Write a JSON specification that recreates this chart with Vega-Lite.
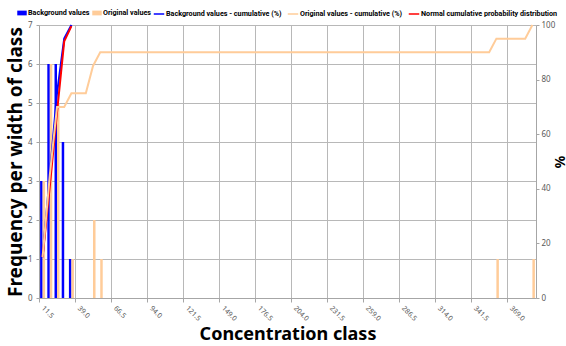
{
  "$schema": "https://vega.github.io/schema/vega-lite/v6.json",
  "width": 497,
  "height": 273,
  "autosize": {"type": "none"},
  "padding": {"left": 39, "top": 25, "right": 30, "bottom": 48},
  "background": "white",
  "config": {
    "view": {"stroke": null},
    "font": "Noto Sans",
    "axis": {
      "labelFont": "Noto Sans",
      "labelFontSize": 8,
      "labelColor": "#595959",
      "domainColor": "#a6a6a6",
      "tickColor": "#a6a6a6",
      "gridColor": "#b8b8b8",
      "titleFont": "Noto Sans",
      "titleFontWeight": "bold",
      "titleColor": "#000000"
    },
    "legend": {
      "labelFont": "Roboto",
      "labelFontSize": 7.2,
      "labelFontWeight": "bold",
      "labelColor": "#000000",
      "padding": 0,
      "gridAlign": "none",
      "layout": {"top": {"anchor": "middle", "direction": "horizontal", "margin": 2}}
    }
  },
  "datasets": {
    "bars": [
      {"cls": 11.5, "series": "Background values", "value": 3},
      {"cls": 17, "series": "Background values", "value": 6},
      {"cls": 22.5, "series": "Background values", "value": 6},
      {"cls": 28, "series": "Background values", "value": 4},
      {"cls": 33.5, "series": "Background values", "value": 1},
      {"cls": 11.5, "series": "Original values", "value": 3},
      {"cls": 17, "series": "Original values", "value": 6},
      {"cls": 22.5, "series": "Original values", "value": 5},
      {"cls": 33.5, "series": "Original values", "value": 1},
      {"cls": 50, "series": "Original values", "value": 2},
      {"cls": 55.5, "series": "Original values", "value": 1},
      {"cls": 358, "series": "Original values", "value": 1},
      {"cls": 385.5, "series": "Original values", "value": 1}
    ],
    "lines": [
      {"cls": 11.5, "series": "Background values - cumulative (%)", "pct": 15},
      {"cls": 17, "series": "Background values - cumulative (%)", "pct": 45},
      {"cls": 22.5, "series": "Background values - cumulative (%)", "pct": 75},
      {"cls": 28, "series": "Background values - cumulative (%)", "pct": 95},
      {"cls": 33.5, "series": "Background values - cumulative (%)", "pct": 100},
      {"cls": 11.5, "series": "Normal cumulative probability distribution", "pct": 15},
      {"cls": 17, "series": "Normal cumulative probability distribution", "pct": 41},
      {"cls": 22.5, "series": "Normal cumulative probability distribution", "pct": 68},
      {"cls": 28, "series": "Normal cumulative probability distribution", "pct": 94},
      {"cls": 33.5, "series": "Normal cumulative probability distribution", "pct": 99.6},
      {"cls": 11.5, "series": "Original values - cumulative (%)", "pct": 15},
      {"cls": 17, "series": "Original values - cumulative (%)", "pct": 45},
      {"cls": 22.5, "series": "Original values - cumulative (%)", "pct": 70},
      {"cls": 28, "series": "Original values - cumulative (%)", "pct": 70},
      {"cls": 33.5, "series": "Original values - cumulative (%)", "pct": 75},
      {"cls": 39, "series": "Original values - cumulative (%)", "pct": 75},
      {"cls": 44.5, "series": "Original values - cumulative (%)", "pct": 75},
      {"cls": 50, "series": "Original values - cumulative (%)", "pct": 85},
      {"cls": 55.5, "series": "Original values - cumulative (%)", "pct": 90},
      {"cls": 61, "series": "Original values - cumulative (%)", "pct": 90},
      {"cls": 66.5, "series": "Original values - cumulative (%)", "pct": 90},
      {"cls": 72, "series": "Original values - cumulative (%)", "pct": 90},
      {"cls": 77.5, "series": "Original values - cumulative (%)", "pct": 90},
      {"cls": 83, "series": "Original values - cumulative (%)", "pct": 90},
      {"cls": 88.5, "series": "Original values - cumulative (%)", "pct": 90},
      {"cls": 94, "series": "Original values - cumulative (%)", "pct": 90},
      {"cls": 99.5, "series": "Original values - cumulative (%)", "pct": 90},
      {"cls": 105, "series": "Original values - cumulative (%)", "pct": 90},
      {"cls": 110.5, "series": "Original values - cumulative (%)", "pct": 90},
      {"cls": 116, "series": "Original values - cumulative (%)", "pct": 90},
      {"cls": 121.5, "series": "Original values - cumulative (%)", "pct": 90},
      {"cls": 127, "series": "Original values - cumulative (%)", "pct": 90},
      {"cls": 132.5, "series": "Original values - cumulative (%)", "pct": 90},
      {"cls": 138, "series": "Original values - cumulative (%)", "pct": 90},
      {"cls": 143.5, "series": "Original values - cumulative (%)", "pct": 90},
      {"cls": 149, "series": "Original values - cumulative (%)", "pct": 90},
      {"cls": 154.5, "series": "Original values - cumulative (%)", "pct": 90},
      {"cls": 160, "series": "Original values - cumulative (%)", "pct": 90},
      {"cls": 165.5, "series": "Original values - cumulative (%)", "pct": 90},
      {"cls": 171, "series": "Original values - cumulative (%)", "pct": 90},
      {"cls": 176.5, "series": "Original values - cumulative (%)", "pct": 90},
      {"cls": 182, "series": "Original values - cumulative (%)", "pct": 90},
      {"cls": 187.5, "series": "Original values - cumulative (%)", "pct": 90},
      {"cls": 193, "series": "Original values - cumulative (%)", "pct": 90},
      {"cls": 198.5, "series": "Original values - cumulative (%)", "pct": 90},
      {"cls": 204, "series": "Original values - cumulative (%)", "pct": 90},
      {"cls": 209.5, "series": "Original values - cumulative (%)", "pct": 90},
      {"cls": 215, "series": "Original values - cumulative (%)", "pct": 90},
      {"cls": 220.5, "series": "Original values - cumulative (%)", "pct": 90},
      {"cls": 226, "series": "Original values - cumulative (%)", "pct": 90},
      {"cls": 231.5, "series": "Original values - cumulative (%)", "pct": 90},
      {"cls": 237, "series": "Original values - cumulative (%)", "pct": 90},
      {"cls": 242.5, "series": "Original values - cumulative (%)", "pct": 90},
      {"cls": 248, "series": "Original values - cumulative (%)", "pct": 90},
      {"cls": 253.5, "series": "Original values - cumulative (%)", "pct": 90},
      {"cls": 259, "series": "Original values - cumulative (%)", "pct": 90},
      {"cls": 264.5, "series": "Original values - cumulative (%)", "pct": 90},
      {"cls": 270, "series": "Original values - cumulative (%)", "pct": 90},
      {"cls": 275.5, "series": "Original values - cumulative (%)", "pct": 90},
      {"cls": 281, "series": "Original values - cumulative (%)", "pct": 90},
      {"cls": 286.5, "series": "Original values - cumulative (%)", "pct": 90},
      {"cls": 292, "series": "Original values - cumulative (%)", "pct": 90},
      {"cls": 297.5, "series": "Original values - cumulative (%)", "pct": 90},
      {"cls": 303, "series": "Original values - cumulative (%)", "pct": 90},
      {"cls": 308.5, "series": "Original values - cumulative (%)", "pct": 90},
      {"cls": 314, "series": "Original values - cumulative (%)", "pct": 90},
      {"cls": 319.5, "series": "Original values - cumulative (%)", "pct": 90},
      {"cls": 325, "series": "Original values - cumulative (%)", "pct": 90},
      {"cls": 330.5, "series": "Original values - cumulative (%)", "pct": 90},
      {"cls": 336, "series": "Original values - cumulative (%)", "pct": 90},
      {"cls": 341.5, "series": "Original values - cumulative (%)", "pct": 90},
      {"cls": 347, "series": "Original values - cumulative (%)", "pct": 90},
      {"cls": 352.5, "series": "Original values - cumulative (%)", "pct": 90},
      {"cls": 358, "series": "Original values - cumulative (%)", "pct": 95},
      {"cls": 363.5, "series": "Original values - cumulative (%)", "pct": 95},
      {"cls": 369, "series": "Original values - cumulative (%)", "pct": 95},
      {"cls": 374.5, "series": "Original values - cumulative (%)", "pct": 95},
      {"cls": 380, "series": "Original values - cumulative (%)", "pct": 95},
      {"cls": 385.5, "series": "Original values - cumulative (%)", "pct": 100}
    ]
  },
  "layer": [
    {
      "data": {"name": "bars"},
      "mark": {"type": "bar"},
      "encoding": {
        "x": {
          "field": "cls",
          "type": "ordinal",
          "scale": {"paddingInner": 0, "paddingOuter": 0},
          "axis": {
            "title": "Concentration class",
            "titleFontSize": 18,
            "titlePadding": 4,
            "values": [11.5, 39, 66.5, 94, 121.5, 149, 176.5, 204, 231.5, 259, 286.5, 314, 341.5, 369],
            "labelExpr": "format(datum.value, '.1f')",
            "labelAngle": 45,
            "labelAlign": "left",
            "labelBaseline": "top",
            "labelFontSize": 7,
            "labelOffset": 3,
            "bandPosition": 0,
            "grid": true,
            "tickSize": 4
          }
        },
        "xOffset": {
          "field": "series",
          "type": "nominal",
          "scale": {"domain": ["Background values", "Original values"], "paddingOuter": 0.44, "paddingInner": 0}
        },
        "y": {
          "field": "value",
          "type": "quantitative",
          "scale": {"domain": [0, 7]},
          "axis": {
            "title": "Frequency per width of class",
            "titleFontSize": 19,
            "titlePadding": 2,
            "values": [0, 1, 2, 3, 4, 5, 6, 7],
            "grid": true,
            "tickSize": 3,
            "labelPadding": 4
          }
        },
        "color": {
          "field": "series",
          "type": "nominal",
          "scale": {"domain": ["Background values", "Original values"], "range": ["#0000ff", "#ffcc99"]},
          "legend": {
            "orient": "top",
            "title": null,
            "direction": "horizontal",
            "gridAlign": "none",
            "symbolType": "M-1,-0.5H1V0.5H-1Z",
            "symbolSize": 90,
            "symbolStrokeWidth": 0,
            "columnPadding": 2,
            "labelOffset": 1,
            "offset": 3
          }
        }
      }
    },
    {
      "data": {"name": "lines"},
      "mark": {"type": "line", "strokeWidth": 2},
      "encoding": {
        "x": {"field": "cls", "type": "ordinal"},
        "y": {
          "field": "pct",
          "type": "quantitative",
          "scale": {"domain": [0, 100]},
          "axis": {
            "orient": "right",
            "title": "%",
            "titleFontSize": 14,
            "titlePadding": -3,
            "values": [0, 20, 40, 60, 80, 100],
            "grid": false,
            "tickSize": 3,
            "labelPadding": 2
          }
        },
        "color": {
          "field": "series",
          "type": "nominal",
          "scale": {
            "domain": ["Background values - cumulative (%)", "Original values - cumulative (%)", "Normal cumulative probability distribution"],
            "range": ["#0000ff", "#ffcc99", "#ff0000"]
          },
          "legend": {
            "orient": "top",
            "title": null,
            "direction": "horizontal",
            "gridAlign": "none",
            "symbolType": "stroke",
            "symbolSize": 110,
            "symbolStrokeWidth": 1.5,
            "columnPadding": 2,
            "labelOffset": 1,
            "offset": 3
          }
        }
      }
    }
  ],
  "resolve": {"scale": {"y": "independent", "color": "independent"}}
}
